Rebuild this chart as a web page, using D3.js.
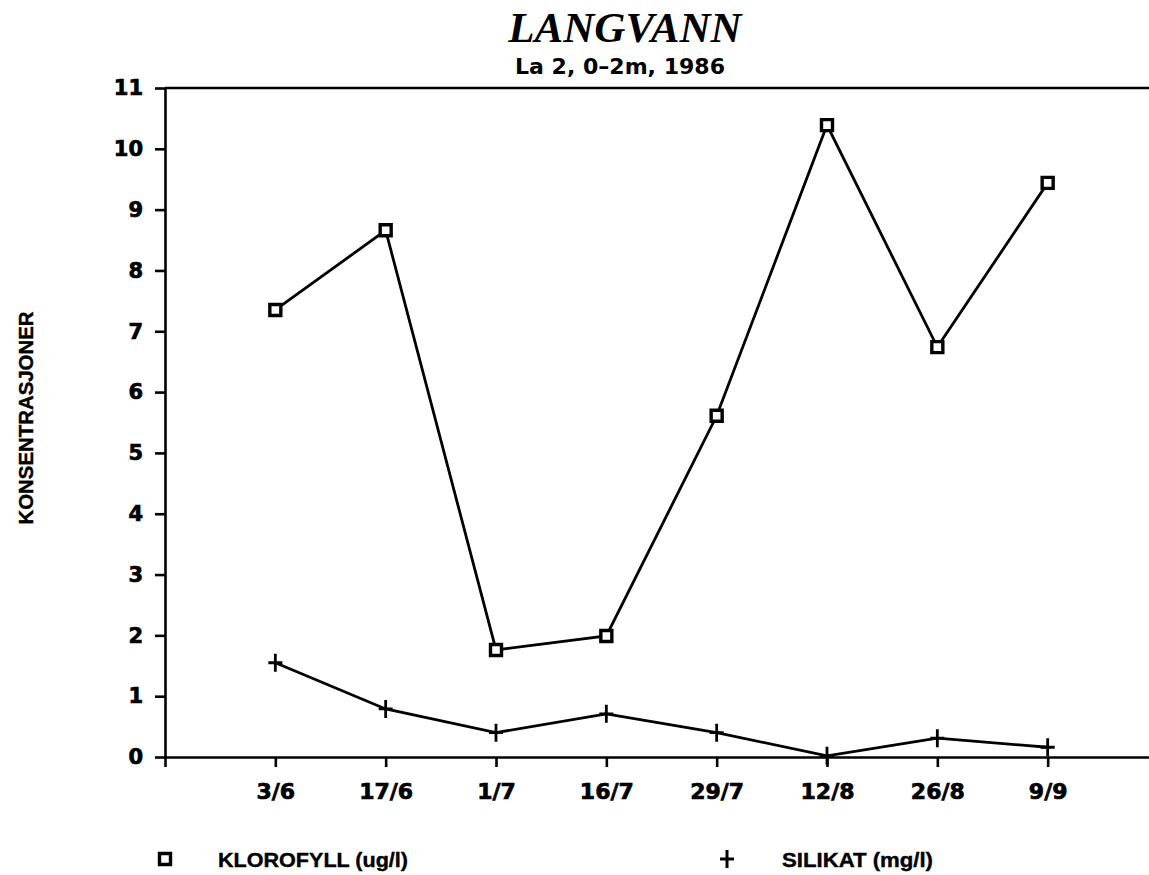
<!DOCTYPE html>
<html>
<head>
<meta charset="utf-8">
<script src="https://cdn.jsdelivr.net/npm/d3@7"></script>
<style>
  body { margin: 0; background: #fff; }
  svg { display: block; }
</style>
</head>
<body>
<div id="chart"></div>
<script>
// data
const dates = ["3/6", "17/6", "1/7", "16/7", "29/7", "12/8", "26/8", "9/9"];
const klorofyll = [7.35, 8.66, 1.76, 1.99, 5.61, 10.39, 6.74, 9.44];
const silikat = [1.55, 0.79, 0.40, 0.71, 0.40, 0.02, 0.31, 0.16];
const yTicks = [0, 1, 2, 3, 4, 5, 6, 7, 8, 9, 10, 11];

window.onload = () => {
  var width = 1149, height = 875;
  var margin = { top: 88, right: -9, bottom: 118, left: 165 };

  var svg = d3.select("#chart")
    .append("svg")
    .attr("width", width)
    .attr("height", height);

  // x: position 0 is the y axis, dates sit at 1..8
  const xScale = d3.scaleLinear()
    .domain([0, 9])
    .range([margin.left, width - margin.right]);

  const yScale = d3.scaleLinear()
    .domain([0, 11])
    .range([height - margin.bottom, margin.top]);

  // title
  svg.append("text")
    .attr("x", 625)
    .attr("y", 42)
    .attr("text-anchor", "middle")
    .style("font-family", "Liberation Serif")
    .style("font-weight", "bold")
    .style("font-style", "italic")
    .style("font-size", "43px")
    .text("LANGVANN");

  svg.append("text")
    .attr("x", 620)
    .attr("y", 74)
    .attr("text-anchor", "middle")
    .style("font-family", "DejaVu Sans")
    .style("font-weight", "bold")
    .style("font-size", "21px")
    .attr("textLength", 210)
    .attr("lengthAdjust", "spacingAndGlyphs")
    .text("La 2, 0\u20132m, 1986");

  // --- Y Axis ---
  var yaxis = svg.append("g")
    .attr("transform", `translate(${margin.left}, 0)`)
    .call(d3.axisLeft(yScale).tickValues(yTicks).tickSize(10).tickSizeOuter(0).tickPadding(12));

  // --- X Axis ---
  var xaxis = svg.append("g")
    .attr("transform", `translate(0, ${yScale(0)})`)
    .call(d3.axisBottom(xScale)
      .tickValues(d3.range(0, dates.length + 1))
      .tickFormat(i => i === 0 ? "" : dates[i - 1])
      .tickSize(10).tickSizeOuter(0).tickPadding(16));

  svg.selectAll(".domain").attr("stroke", "#000").attr("stroke-width", 2.6);
  svg.selectAll(".tick line").attr("stroke", "#000").attr("stroke-width", 2.6);
  svg.selectAll(".tick text")
    .attr("fill", "#000")
    .attr("stroke", "#000")
    .attr("stroke-width", 0.7)
    .style("font-family", "DejaVu Sans")
    .style("font-weight", "bold")
    .style("font-size", "21px");
  xaxis.selectAll(".tick text").style("font-size", "22px");

  // top frame line
  svg.append("line")
    .attr("x1", margin.left)
    .attr("x2", width - margin.right)
    .attr("y1", yScale(11))
    .attr("y2", yScale(11))
    .attr("stroke", "#000")
    .attr("stroke-width", 2.6);

  // y label
  svg.append("text")
    .attr("transform", "translate(33, 418) rotate(-90)")
    .attr("text-anchor", "middle")
    .attr("stroke", "#000")
    .attr("stroke-width", 0.4)
    .style("font-family", "Liberation Sans")
    .style("font-weight", "bold")
    .style("font-size", "21px")
    .attr("textLength", 213)
    .attr("lengthAdjust", "spacingAndGlyphs")
    .text("KONSENTRASJONER");

  var line = d3.line()
    .x((d, i) => xScale(i + 1))
    .y(d => yScale(d));

  // --- lines ---
  svg.append("path")
    .datum(klorofyll)
    .attr("d", line)
    .attr("fill", "none")
    .attr("stroke", "#000")
    .attr("stroke-width", 2.8);

  svg.append("path")
    .datum(silikat)
    .attr("d", line)
    .attr("fill", "none")
    .attr("stroke", "#000")
    .attr("stroke-width", 2.8);

  // squares for klorofyll
  const square = d3.symbol().type(d3.symbolSquare).size(121);
  const plus = "M-7,0H7M0,-9V9";

  svg.selectAll(".klor")
    .data(klorofyll)
    .join("path")
    .attr("class", "klor")
    .attr("d", square)
    .attr("transform", (d, i) => `translate(${xScale(i + 1)},${yScale(d)})`)
    .attr("fill", "#fff")
    .attr("stroke", "#000")
    .attr("stroke-width", 3.4);

  // plus signs for silikat
  svg.selectAll(".sil")
    .data(silikat)
    .join("path")
    .attr("class", "sil")
    .attr("d", plus)
    .attr("transform", (d, i) => `translate(${xScale(i + 1)},${yScale(d)})`)
    .attr("stroke", "#000")
    .attr("stroke-width", 2.8);

  // --- legend ---
  svg.append("path")
    .attr("d", square)
    .attr("transform", "translate(165, 859)")
    .attr("fill", "#fff")
    .attr("stroke", "#000")
    .attr("stroke-width", 3.4);

  svg.append("text")
    .attr("x", 218)
    .attr("y", 867)
    .attr("stroke", "#000")
    .attr("stroke-width", 0.4)
    .style("font-family", "Liberation Sans")
    .style("font-weight", "bold")
    .style("font-size", "21px")
    .attr("textLength", 190)
    .attr("lengthAdjust", "spacingAndGlyphs")
    .text("KLOROFYLL (ug/l)");

  svg.append("path")
    .attr("d", plus)
    .attr("transform", "translate(727, 859)")
    .attr("stroke", "#000")
    .attr("stroke-width", 3);

  svg.append("text")
    .attr("x", 782)
    .attr("y", 867)
    .attr("stroke", "#000")
    .attr("stroke-width", 0.4)
    .style("font-family", "Liberation Sans")
    .style("font-weight", "bold")
    .style("font-size", "21px")
    .attr("textLength", 151)
    .attr("lengthAdjust", "spacingAndGlyphs")
    .text("SILIKAT (mg/l)");
};
</script>
</body>
</html>
